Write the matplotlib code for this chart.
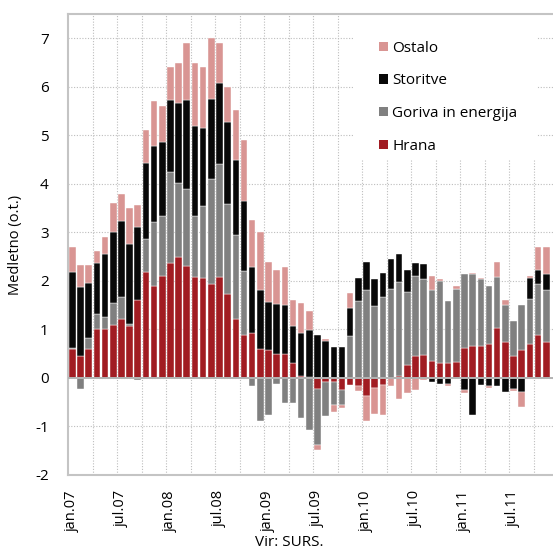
import matplotlib
matplotlib.use("Agg")
import matplotlib.pyplot as plt
import numpy as np
from matplotlib.patches import Patch, Rectangle

plt.rcParams['font.family'] = ['Open Sans', 'DejaVu Sans']
plt.rcParams['axes.unicode_minus'] = False

# Monthly contributions, jan.07 .. nov.11 (59 months)
hrana = [0.59, 0.45, 0.59, 1.00, 1.00, 1.09, 1.21, 1.07, 1.60, 2.19,
         1.90, 2.10, 2.37, 2.49, 2.31, 2.08, 2.05, 1.93, 2.08, 1.73,
         1.21, 0.89, 0.93, 0.59, 0.57, 0.50, 0.50, 0.30, 0.05, 0.02,
         -0.23, -0.08, -0.08, -0.25, -0.14, -0.17, -0.38, -0.20, -0.14, 0.00,
         0.04, 0.27, 0.45, 0.48, 0.35, 0.30, 0.30, 0.33, 0.62, 0.65,
         0.65, 0.69, 1.03, 0.74, 0.45, 0.57, 0.69, 0.89, 0.74]
goriva = [0.03, -0.23, 0.24, 0.31, 0.26, 0.46, 0.46, 0.05, -0.05, 0.67,
          1.31, 1.23, 1.88, 1.52, 1.58, 1.25, 1.49, 2.17, 2.32, 1.86,
          1.73, 1.31, -0.17, -0.89, -0.77, -0.12, -0.51, -0.51, -0.82, -1.07,
          -1.16, -0.71, -0.48, -0.31, 0.86, 1.58, 1.81, 1.48, 1.67, 1.84,
          1.93, 1.51, 1.66, 1.55, 1.46, 1.70, 1.28, 1.51, 1.52, 1.50,
          1.38, 1.21, 1.05, 0.77, 0.72, 0.93, 0.93, 1.04, 1.08]
storitve = [1.57, 1.43, 1.13, 1.06, 1.29, 1.45, 1.57, 1.64, 1.51, 1.56,
            1.57, 1.53, 1.48, 1.66, 1.84, 1.86, 1.62, 1.65, 1.68, 1.69,
            1.55, 1.45, 1.36, 1.22, 1.00, 1.03, 1.01, 0.77, 0.88, 0.96,
            0.89, 0.76, 0.63, 0.63, 0.59, 0.47, 0.57, 0.56, 0.49, 0.62,
            0.58, 0.45, 0.26, 0.32, -0.08, -0.12, -0.12, 0.00, -0.25, -0.77,
            -0.14, -0.17, -0.17, -0.29, -0.23, -0.29, 0.44, 0.29, 0.32]
ostalo = [0.50, 0.44, 0.36, 0.25, 0.36, 0.60, 0.56, 0.75, 0.45, 0.69,
          0.93, 0.75, 0.68, 0.83, 1.18, 1.31, 1.25, 1.25, 0.83, 0.72,
          1.03, 1.25, 0.97, 1.19, 0.81, 0.70, 0.78, 0.53, 0.62, 0.39,
          -0.09, 0.04, -0.14, -0.06, 0.30, -0.10, -0.51, -0.54, -0.63, -0.17,
          -0.44, -0.32, -0.25, -0.05, 0.30, 0.03, -0.05, 0.05, -0.07, 0.02,
          0.03, -0.03, 0.30, 0.09, -0.03, -0.30, 0.04, 0.48, 0.56]

tick_labels = ["jan.07", "jul.07", "jan.08", "jul.08", "jan.09", "jul.09",
               "jan.10", "jul.10", "jan.11", "jul.11"]

series = [("Hrana", hrana, "#a11c22"),
          ("Goriva in energija", goriva, "#808080"),
          ("Storitve", storitve, "#080808"),
          ("Ostalo", ostalo, "#d99593")]

fig = plt.figure(figsize=(5.53, 5.51), dpi=100)
ax = fig.add_axes([68.3/553, 1-475/551, 1-68.3/553, (475-14)/551])

n = len(hrana)
x = np.arange(n)
pos_bottom = np.zeros(n)
neg_bottom = np.zeros(n)
for name, vals, col in series:
    v = np.array(vals, dtype=float)
    bottoms = np.where(v >= 0, pos_bottom, neg_bottom)
    ax.bar(x, v, bottom=bottoms, width=0.8, color=col, edgecolor='white',
           linewidth=0.3, zorder=2)
    pos_bottom += np.where(v >= 0, v, 0)
    neg_bottom += np.where(v < 0, v, 0)

ax.axhline(0, color='#b3b3b3', lw=1.4, zorder=3)

ax.set_xlim(-0.5, (553-68.3)/8.17 - 0.5)
ax.set_ylim(-2, 7.5)
ax.set_yticks(np.arange(-2, 8, 1))
ax.set_xticks(np.arange(0, n, 6))
ax.set_xticklabels(tick_labels, rotation=90, fontsize=10.5)
ax.set_xticks(np.arange(2.5, n, 3), minor=True)
ax.tick_params(axis='y', length=0, pad=14, labelsize=11)
ax.tick_params(axis='x', which='both', length=0, pad=11)
ax.grid(axis='y', which='major', linestyle=(0, (1, 1.5)), color='#bdbdbd', lw=0.8, zorder=0)
ax.grid(axis='x', which='minor', linestyle=(0, (1, 1.5)), color='#bdbdbd', lw=0.8, zorder=0)
ax.grid(axis='x', which='major', visible=False)
ax.set_axisbelow(True)

for s in ['left', 'top', 'bottom']:
    ax.spines[s].set_color('#c4c4c4')
    ax.spines[s].set_linewidth(1.5)
ax.spines['right'].set_visible(False)

ax.set_ylabel("Medletno (o.t.)", fontsize=10.5, labelpad=9)

# white area behind legend
ax.add_patch(Rectangle((0.587, 0.683), 0.38, 0.317, transform=ax.transAxes,
                       facecolor='white', edgecolor='none', zorder=1))
handles = [Patch(facecolor=c, label=nm) for nm, _, c in reversed(series)]
leg = ax.legend(handles=handles, loc='upper left', bbox_to_anchor=(0.629, 0.955),
                frameon=False, fontsize=11, handlelength=0.55, handleheight=0.55,
                handletextpad=0.3, labelspacing=1.15, borderaxespad=0)

fig.text(289/553, 1-543/551, "Vir: SURS.", ha='center', va='center', fontsize=11)

fig.savefig("out.png", dpi=100)
